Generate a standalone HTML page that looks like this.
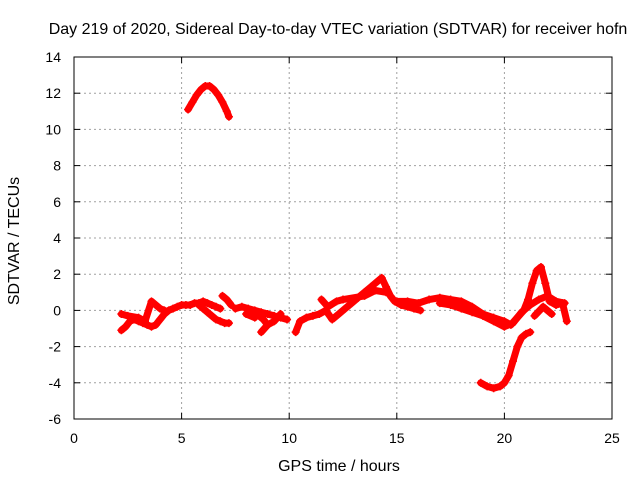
<!DOCTYPE html>
<html><head><meta charset="utf-8"><style>
body{margin:0;background:#fff}
svg{display:block;font-family:"Liberation Sans",sans-serif;font-size:14px}
</style></head><body>
<svg id="chart" width="640" height="480" viewBox="0 0 640 480">
<rect width="640" height="480" fill="#fff"/>
<text x="338" y="34" text-anchor="middle" font-size="16">Day 219 of 2020, Sidereal Day-to-day VTEC variation (SDTVAR) for receiver hofn</text>
<text x="339" y="471" text-anchor="middle" font-size="16">GPS time / hours</text>
<text transform="translate(19,241) rotate(-90)" text-anchor="middle" font-size="16">SDTVAR / TECUs</text>
<g id="grid"></g>
<g id="ticks"></g>
<g id="marks"></g>
<rect x="74" y="57" width="538" height="362" fill="none" stroke="#000" stroke-width="1"/>
</svg>
<script>
const xTicks=[0,5,10,15,20,25];
const yTicks=[-6,-4,-2,0,2,4,6,8,10,12,14];
const segArcT=[5.3,5.5,5.7,5.9,6.1,6.3,6.5,6.7,6.9,7.1,7.2];
const segArcV=[11.1,11.5,11.9,12.2,12.4,12.4,12.2,11.9,11.5,11.0,10.7];
const segEarlyT=[2.2,2.4,2.6,2.8,3.0,3.2,3.4,3.6,3.8,4.0,4.2,4.4,4.6,4.8,5.0,5.2,5.4,5.6,5.8,6.0,6.2,6.4,6.6,6.8];
const segEarlyV=[-1.1,-0.9,-0.6,-0.5,-0.6,-0.7,-0.8,-0.9,-0.8,-0.5,-0.2,0,0.1,0.2,0.3,0.3,0.3,0.4,0.4,0.5,0.4,0.3,0.2,0.1];
const segEarly2T=[2.2,2.5,3.0,3.3,3.6,3.8,4.0,4.2];
const segEarly2V=[-0.2,-0.3,-0.4,-0.6,0.5,0.3,0.1,0.0];
const segDropT=[5.8,6.0,6.2,6.4,6.6,6.8,7.0,7.2];
const segDropV=[0.3,0.1,-0.1,-0.3,-0.5,-0.6,-0.7,-0.7];
const segBumpT=[6.9,7.1,7.3];
const segBumpV=[0.8,0.6,0.3];
const segMidT=[7.5,7.8,8.1,8.4,8.7,9.0,9.3,9.6,9.9];
const segMidV=[0.1,0.2,0.1,0,-0.1,-0.2,-0.3,-0.4,-0.5];
const segMid2T=[8.0,8.4,8.5,8.8,9.0,8.7];
const segMid2V=[-0.2,-0.4,-0.2,-0.5,-0.8,-1.2];
const segMid3T=[9.0,9.3,9.6];
const segMid3V=[-0.8,-0.6,-0.2];
const segRiseT=[10.3,10.5,10.8,11.1,11.4,11.7,12.0,12.3,12.6,12.9,13.2,13.5,13.8,14.1,14.3,14.5,14.7,14.9,15.2,15.5,15.8,16.1];
const segRiseV=[-1.2,-0.6,-0.4,-0.3,-0.2,0,-0.5,-0.2,0.1,0.4,0.7,1.0,1.3,1.6,1.8,1.3,0.8,0.5,0.3,0.2,0.1,0.0];
const segRise2T=[11.5,11.8,12.2,12.5,13.5,14.0,14.5];
const segRise2V=[0.6,0.2,0.5,0.6,0.8,1.1,1.0];
const segLateT=[15.0,15.5,16,16.5,17,17.5,18,18.5,19,19.5,20,20.3,20.6,20.9,21.1,21.3,21.5,21.7,21.9,22.1,22.4,22.7,22.9];
const segLateV=[0.5,0.5,0.4,0.6,0.7,0.6,0.5,0.2,-0.2,-0.4,-0.6,-0.8,-0.4,0,0.6,1.5,2.2,2.4,1.5,0.5,0.3,0.4,-0.6];
const segLate2T=[17,17.5,18,18.5,19,19.5,20,20.4,20.8,21.2,21.6,22.0,22.4,22.8];
const segLate2V=[0.4,0.3,0.1,-0.1,-0.3,-0.6,-0.9,-0.7,-0.1,0.3,0.6,0.8,0.5,0.4];
const segLate3T=[21.4,21.8,22.2];
const segLate3V=[-0.3,0.2,-0.2];
const segLowT=[18.9,19.2,19.5,19.8,20.0,20.2,20.4,20.6,20.8,21.0,21.2];
const segLowV=[-4.0,-4.2,-4.3,-4.2,-4.0,-3.6,-2.8,-2.0,-1.5,-1.3,-1.2];
const series=[[segArcT,segArcV],[segEarlyT,segEarlyV],[segEarly2T,segEarly2V],[segDropT,segDropV],[segBumpT,segBumpV],[segMidT,segMidV],[segMid2T,segMid2V],[segMid3T,segMid3V],[segRiseT,segRiseV],[segRise2T,segRise2V],[segLateT,segLateV],[segLate2T,segLate2V],[segLate3T,segLate3V],[segLowT,segLowV]];
const NS="http://www.w3.org/2000/svg";
const X0=74,X1=612,Y0=419,Y1=57;
function sx(t){return X0+(t-0)/(25-0)*(X1-X0);}
function sy(v){return Y0-(v-(-6))/(14-(-6))*(Y0-Y1);}
function mk(tag,at,parent){const e=document.createElementNS(NS,tag);for(const k in at)e.setAttribute(k,at[k]);parent.appendChild(e);return e;}
const grid=document.getElementById('grid'),ticks=document.getElementById('ticks'),marks=document.getElementById('marks');
xTicks.forEach(t=>{const x=sx(t);
 if(t>0&&t<25){const g=mk('line',{x1:x,x2:x,y1:Y1,y2:Y0,stroke:'#a0a0a0','stroke-dasharray':'2,3','stroke-width':1},grid);
 
 }
 const l=mk('line',{x1:x,x2:x,y1:Y0,y2:Y0-6,stroke:'#000'},ticks);
 
 
 const l2=mk('line',{x1:x,x2:x,y1:Y1,y2:Y1+6,stroke:'#000'},ticks);
 
 
 const tx=mk('text',{x:x,y:443,'text-anchor':'middle'},ticks);tx.textContent=t;
 
 });
yTicks.forEach(v=>{const y=sy(v);
 if(v>-6&&v<14){const g=mk('line',{x1:X0,x2:X1,y1:y,y2:y,stroke:'#a0a0a0','stroke-dasharray':'2,3','stroke-width':1},grid);
 
 }
 const l=mk('line',{x1:X0,x2:X0+6,y1:y,y2:y,stroke:'#000'},ticks);
 
 
 const l2=mk('line',{x1:X1,x2:X1-6,y1:y,y2:y,stroke:'#000'},ticks);
 
 
 const tx=mk('text',{x:61,y:y+5,'text-anchor':'end'},ticks);tx.textContent=v;
 
 });
series.forEach(([T,V])=>{
 const pts=T.map((t,i)=>sx(t)+','+sy(V[i])).join(' ');
 const pl=mk('polyline',{points:pts,fill:'none',stroke:'#f00','stroke-width':7,'stroke-linejoin':'round','stroke-linecap':'round'},marks);
 
 
 T.forEach((t,i)=>{const x=sx(t),y=sy(V[i]);
  const p=mk('path',{d:`M${x-4},${y}H${x+4}M${x},${y-4}V${y+4}`,stroke:'#f00','stroke-width':1.5},marks);
  
  });
});
</script>
</body></html>
